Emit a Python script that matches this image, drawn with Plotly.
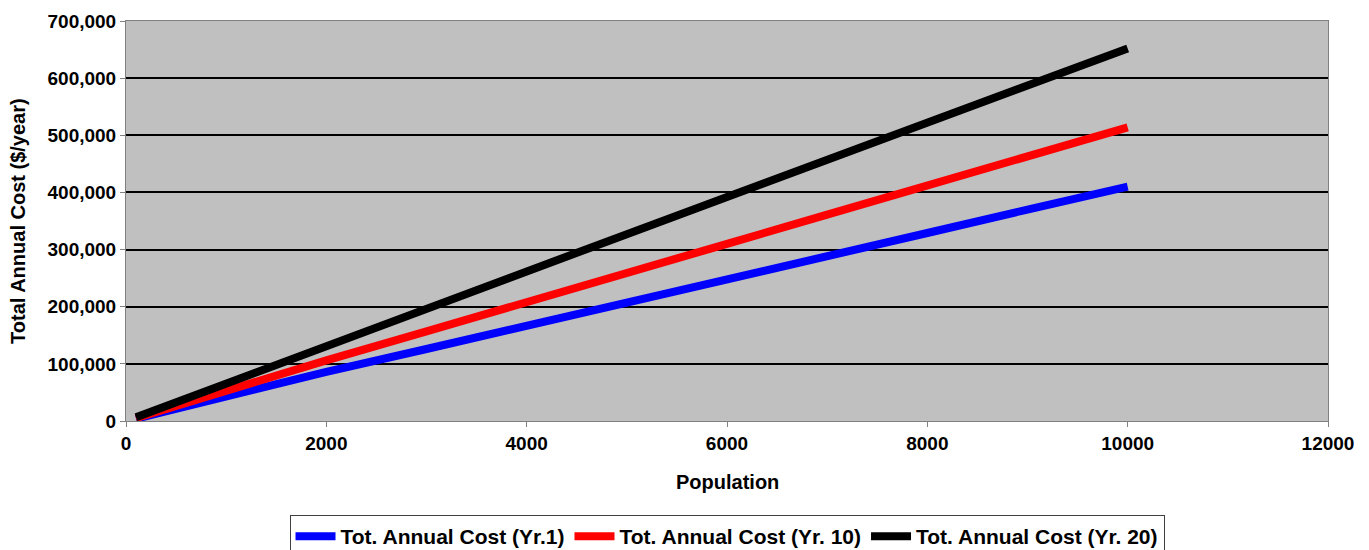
import plotly.graph_objects as go

population = [100, 1000, 2000, 3000, 4000, 5000, 6000, 7000, 8000, 9000, 10000]
cost_yr1 = [4000, 44000, 86000, 126000, 166000, 206000, 247000, 288000, 329000, 370000, 410000]
cost_yr10 = [5000, 54000, 106000, 157000, 207000, 259000, 310000, 361000, 412000, 463000, 514000]
cost_yr20 = [6500, 66000, 132000, 198000, 263000, 327000, 392000, 457000, 522000, 587000, 652000]

series_names = ["Tot. Annual Cost (Yr.1)", "Tot. Annual Cost (Yr. 10)", "Tot. Annual Cost (Yr. 20)"]
series_values = [cost_yr1, cost_yr10, cost_yr20]
series_colors = ["#0000ff", "#ff0000", "#000000"]

y_tickvals = [0, 100000, 200000, 300000, 400000, 500000, 600000, 700000]
x_tickvals = [0, 2000, 4000, 6000, 8000, 10000, 12000]

font_family = "Liberation Sans, Arial, sans-serif"

fig = go.Figure()
for name, vals, col in zip(series_names, series_values, series_colors):
    fig.add_trace(go.Scatter(x=population, y=vals, mode="lines", name=name,
                             line=dict(color=col, width=8)))

fig.update_layout(
    width=1353, height=542,
    margin=dict(l=118, r=33, t=13, b=129, autoexpand=False),
    paper_bgcolor="white",
    plot_bgcolor="#c0c0c0",
    font=dict(family=font_family, size=19, color="black", weight="bold"),
    showlegend=True,
    legend=dict(orientation="h", x=0.5, xanchor="center", y=-0.235, yanchor="top",
                bordercolor="#404040", borderwidth=1, bgcolor="white",
                font=dict(size=21, weight="bold"), itemwidth=40, tracegroupgap=0),
    annotations=[
        dict(text="Population", xref="paper", yref="paper", x=0.5, y=-0.1525,
             xanchor="center", yanchor="middle", showarrow=False,
             font=dict(size=20, weight="bold")),
        dict(text="Total Annual Cost ($/year)", xref="paper", yref="paper", x=-0.0899, y=0.5,
             xanchor="center", yanchor="middle", showarrow=False, textangle=-90,
             font=dict(size=20, weight="bold")),
    ],
)
fig.update_xaxes(range=[0, 12000], tickvals=x_tickvals, ticktext=[str(v) for v in x_tickvals],
                 showgrid=False, zeroline=False, showline=True, linecolor="#808080", linewidth=1,
                 mirror=True, ticks="outside", ticklen=5, tickcolor="#808080", automargin=False,
                 tickfont=dict(size=19, weight="bold"))
fig.update_yaxes(range=[0, 700000], tickvals=y_tickvals,
                 ticktext=[f"{v:,}" for v in y_tickvals],
                 showgrid=True, gridcolor="black", gridwidth=2, zeroline=False,
                 showline=True, linecolor="#808080", linewidth=1, mirror=True,
                 ticks="outside", ticklen=5, tickcolor="#808080", automargin=False,
                 tickfont=dict(size=19, weight="bold"))

fig.write_html("out.html")
